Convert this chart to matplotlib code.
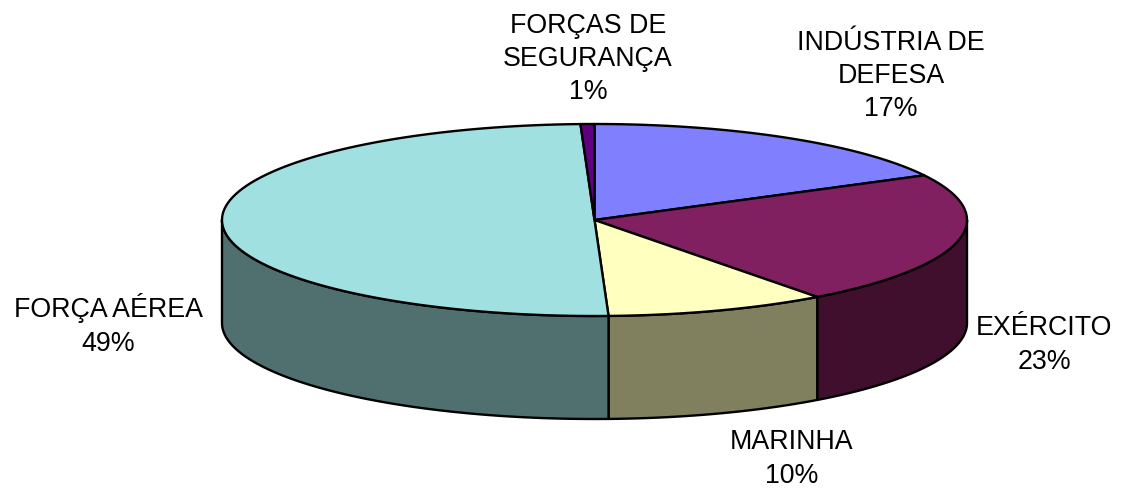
"""3D-look pie chart: share by segment."""
import numpy as np
import matplotlib
matplotlib.use("Agg")
import matplotlib.pyplot as plt
from matplotlib.patches import Polygon

labels = ["INDÚSTRIA DE\nDEFESA\n17%", "EXÉRCITO\n23%", "MARINHA\n10%",
          "FORÇA AÉREA\n49%", "FORÇAS DE\nSEGURANÇA\n1%"]
# shares as they look in the picture (slightly off the printed rounding)
values = [17.3, 22.5, 9.6, 50.0, 0.6]
top_colors = ["#8080FF", "#802060", "#FFFFC0", "#A0E0E0", "#600080"]
side_colors = ["#404080", "#400F2E", "#80805F", "#507070", "#300040"]
label_xy = [(891, 76), (1044, 345), (792, 459), (108, 325), (588, 59)]

CX, CY, RX, RY, DEPTH = 594.5, 220, 372.5, 96, 103

plt.rcParams["font.family"] = ["Liberation Sans", "DejaVu Sans"]
fig = plt.figure(figsize=(11.24, 4.90), dpi=100)
ax = fig.add_axes([0, 0, 1, 1])
ax.set_xlim(0, 1124)
ax.set_ylim(490, 0)
ax.axis("off")


def rim(t0, t1, dy=0.0):
    t = np.radians(np.linspace(t0, t1, 200))
    return np.column_stack([CX + RX * np.sin(t), CY + dy - RY * np.cos(t)])


edges = np.cumsum([0] + values) * 3.6

# side walls, only the front half of the rim shows
for i, c in enumerate(side_colors):
    a, b = max(edges[i], 90), min(edges[i + 1], 270)
    if a < b:
        front = rim(a, b)
        ax.add_patch(Polygon(np.vstack([front, rim(b, a, DEPTH)]), closed=True,
                             fc=c, ec="black", lw=1.7, joinstyle="round"))

# top faces
for i, c in enumerate(top_colors):
    pts = np.vstack([[CX, CY], rim(edges[i], edges[i + 1])])
    ax.add_patch(Polygon(pts, closed=True, fc=c, ec="black", lw=1.7, joinstyle="round"))

for (x, y), s in zip(label_xy, labels):
    ax.text(x, y, s, ha="center", va="center", fontsize=19.3, color="black", linespacing=1.37)

fig.savefig("out.png", dpi=100)
